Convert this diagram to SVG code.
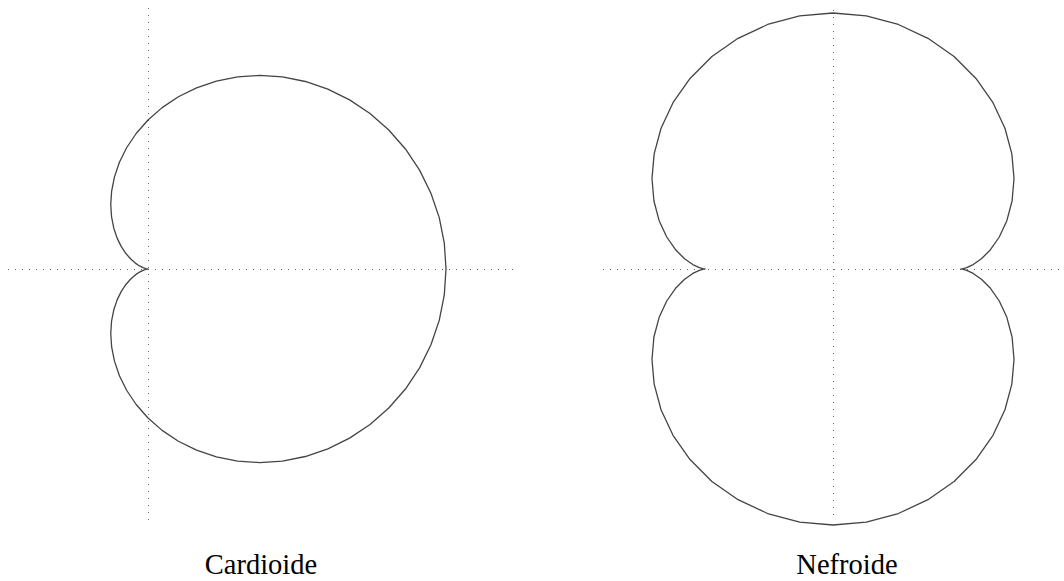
<svg xmlns="http://www.w3.org/2000/svg" width="1064" height="581" viewBox="0 0 1064 581">
<style>
.axis{stroke:#666;stroke-width:1;stroke-dasharray:1 6;fill:none}
.curve{stroke:#444;stroke-width:1.3;fill:none;stroke-linejoin:round}
.label{font-family:"Liberation Serif","Times New Roman",serif;font-size:28.5px;fill:#000;text-anchor:middle}
</style>
<rect width="1064" height="581" fill="#fff"/>
<g id="cardioide">
<line class="axis" x1="8" y1="269.5" x2="514" y2="269.5"/>
<line class="axis" x1="148.5" y1="8" x2="148.5" y2="522"/>
<path class="curve" d="M446,269 L444.3,243.08 L439.25,217.64 L430.94,193.19 L419.58,170.15 L405.43,148.96 L388.79,129.98 L370.03,113.53 L349.58,99.86 L327.86,89.14 L305.34,81.49 L282.48,76.94 L259.75,75.44 L237.58,76.89 L216.39,81.1 L196.54,87.83 L178.37,96.79 L162.12,107.63 L148,120 L136.15,133.51 L126.62,147.74 L119.42,162.32 L114.47,176.87 L111.64,191.03 L110.75,204.48 L111.56,216.95 L113.79,228.23 L117.14,238.14 L121.3,246.59 L125.92,253.54 L130.71,259.02 L135.35,263.1 L139.55,265.93 L143.1,267.69 L145.77,268.61 L147.43,268.95 L148,269 L147.43,269.05 L145.77,269.39 L143.1,270.31 L139.55,272.07 L135.35,274.9 L130.71,278.98 L125.92,284.46 L121.3,291.41 L117.14,299.86 L113.79,309.77 L111.56,321.05 L110.75,333.52 L111.64,346.97 L114.47,361.13 L119.42,375.68 L126.62,390.26 L136.15,404.49 L148,418 L162.12,430.37 L178.37,441.21 L196.54,450.17 L216.39,456.9 L237.58,461.11 L259.75,462.56 L282.48,461.06 L305.34,456.51 L327.86,448.86 L349.58,438.14 L370.03,424.47 L388.79,408.02 L405.43,389.04 L419.58,367.85 L430.94,344.81 L439.25,320.36 L444.3,294.92 Z"/>
<text class="label" x="261" y="574">Cardioide</text>
</g>
<g id="nefroide">
<line class="axis" x1="603" y1="269.5" x2="1064" y2="269.5"/>
<line class="axis" x1="833.5" y1="10" x2="833.5" y2="518"/>
<path class="curve" d="M961,269 L962.45,268.83 L966.66,267.66 L973.2,264.56 L981.42,258.76 L990.45,249.68 L999.28,237 L1006.84,220.69 L1012.08,201.01 L1014.02,178.49 L1011.84,153.92 L1004.95,128.29 L993,102.72 L975.96,78.42 L954.09,56.58 L927.95,38.29 L898.34,24.49 L866.3,15.91 L833,13 L799.7,15.91 L767.66,24.49 L738.05,38.29 L711.91,56.58 L690.04,78.42 L673,102.72 L661.05,128.29 L654.16,153.92 L651.98,178.49 L653.92,201.01 L659.16,220.69 L666.72,237 L675.55,249.68 L684.58,258.76 L692.8,264.56 L699.34,267.66 L703.55,268.83 L705,269 L703.55,269.17 L699.34,270.34 L692.8,273.44 L684.58,279.24 L675.55,288.32 L666.72,301 L659.16,317.31 L653.92,336.99 L651.98,359.51 L654.16,384.08 L661.05,409.71 L673,435.28 L690.04,459.58 L711.91,481.42 L738.05,499.71 L767.66,513.51 L799.7,522.09 L833,525 L866.3,522.09 L898.34,513.51 L927.95,499.71 L954.09,481.42 L975.96,459.58 L993,435.28 L1004.95,409.71 L1011.84,384.08 L1014.02,359.51 L1012.08,336.99 L1006.84,317.31 L999.28,301 L990.45,288.32 L981.42,279.24 L973.2,273.44 L966.66,270.34 L962.45,269.17 Z"/>
<text class="label" x="847" y="574">Nefroide</text>
</g>
</svg>
